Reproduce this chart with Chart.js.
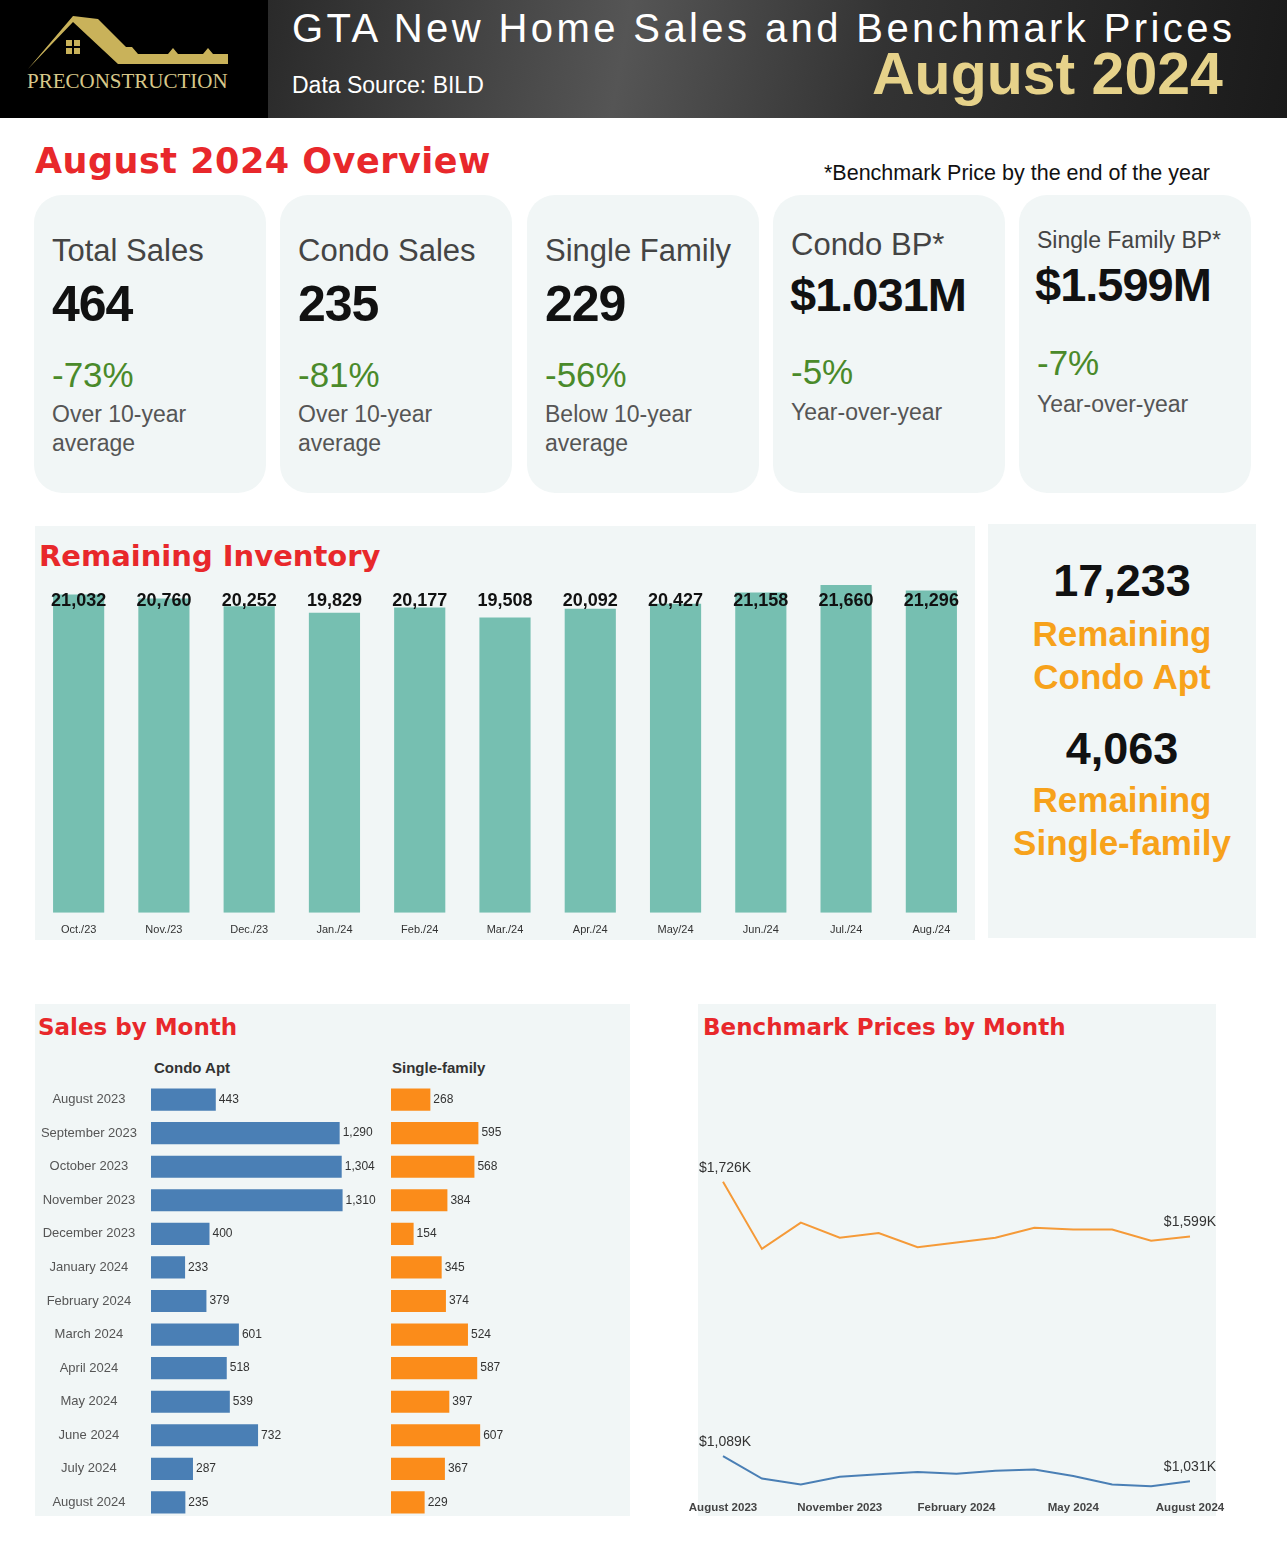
<!DOCTYPE html>
<html><head><meta charset="utf-8">
<script src="https://cdn.jsdelivr.net/npm/chart.js@4"></script>
<style>
body{margin:0;width:1287px;height:1560px;background:#fff;font-family:"Liberation Sans",Arial,sans-serif;position:relative;overflow:hidden}
.abs{position:absolute}
#hdr{left:0;top:0;width:1287px;height:118px;background:#000}
#hdrR{left:268px;top:0;width:1019px;height:118px;background:linear-gradient(100deg,#2a2a2a,#555 35%,#333 60%,#1a1a1a)}
.card{background:#f1f6f6;border-radius:28px;top:195px;width:232px;height:298px}
.ct{font-size:31px;color:#444}
.cv{font-size:50px;font-weight:bold;color:#111;letter-spacing:-1px}
.cp{font-size:35px;color:#4a8a2a}
.cs{font-size:23px;color:#555;line-height:29px}
.red{color:#e8282b;font-family:"DejaVu Sans",sans-serif;font-weight:bold}
.or{color:#f7a21b;font-weight:bold;font-size:35px;text-align:center}
.big{font-weight:bold;font-size:45px;text-align:center;color:#111}
</style></head><body>
<div id="hdr" class="abs"></div><div id="hdrR" class="abs"></div>
<svg class="abs" style="left:28px;top:14px" width="205" height="60"><path d="M0 55 L45 8 L90 50 L200 50 L200 40 L185 40 L180 34 L175 40 L150 40 L145 34 L140 40 L110 40 L104 33 L98 33 L70 5 L45 2 Z" fill="#c9b25a"/><path d="M10 50 L45 14 L80 50 Z" fill="#000"/><rect x="38" y="26" width="14" height="14" fill="#c9b25a"/><rect x="44" y="26" width="2" height="14" fill="#000"/><rect x="38" y="32" width="14" height="2" fill="#000"/></svg>
<div class="abs" style="left:27px;top:69px;font-family:'Liberation Serif',serif;font-size:21px;color:#d8c88a">PRECONSTRUCTION</div>
<div class="abs" style="left:292px;top:6px;font-size:40px;color:#fff;letter-spacing:3.4px">GTA New Home Sales and Benchmark Prices</div>
<div class="abs" style="left:292px;top:72px;font-size:23px;color:#fff">Data Source: BILD</div>
<div class="abs" style="left:872px;top:40px;font-size:59px;color:#e6d28a;font-weight:bold">August 2024</div>

<div class="abs red" style="left:35px;top:141px;font-size:35px;letter-spacing:0.5px">August 2024 Overview</div>
<div class="abs" style="left:824px;top:161px;font-size:21.5px;color:#111">*Benchmark Price by the end of the year</div>

<div class="abs card" style="left:34px"><div class="abs ct" style="left:18px;top:38px">Total Sales</div><div class="abs cv" style="left:18px;top:80px">464</div><div class="abs cp" style="left:18px;top:160px">-73%</div><div class="abs cs" style="left:18px;top:205px">Over 10-year<br>average</div></div>
<div class="abs card" style="left:280px"><div class="abs ct" style="left:18px;top:38px">Condo Sales</div><div class="abs cv" style="left:18px;top:80px">235</div><div class="abs cp" style="left:18px;top:160px">-81%</div><div class="abs cs" style="left:18px;top:205px">Over 10-year<br>average</div></div>
<div class="abs card" style="left:527px"><div class="abs ct" style="left:18px;top:38px">Single Family</div><div class="abs cv" style="left:18px;top:80px">229</div><div class="abs cp" style="left:18px;top:160px">-56%</div><div class="abs cs" style="left:18px;top:205px">Below 10-year<br>average</div></div>
<div class="abs card" style="left:773px"><div class="abs ct" style="left:18px;top:32px">Condo BP*</div><div class="abs cv" style="left:17px;top:72px;font-size:47px">$1.031M</div><div class="abs cp" style="left:18px;top:157px">-5%</div><div class="abs cs" style="left:18px;top:203px">Year-over-year</div></div>
<div class="abs card" style="left:1019px"><div class="abs ct" style="left:18px;top:32px;font-size:23px">Single Family BP*</div><div class="abs cv" style="left:16px;top:62px;font-size:47px">$1.599M</div><div class="abs cp" style="left:18px;top:148px">-7%</div><div class="abs cs" style="left:18px;top:195px">Year-over-year</div></div>

<div class="abs" style="left:35px;top:526px;width:940px;height:414px;background:#f1f6f6"></div>
<div class="abs red" style="left:39px;top:539px;font-size:29px">Remaining Inventory</div>
<div class="abs" style="left:36px;top:585px;width:938px;height:355px"><canvas id="inv"></canvas></div>

<div class="abs" style="left:988px;top:524px;width:268px;height:414px;background:#f1f6f6"></div>
<div class="abs big" style="left:988px;top:555px;width:268px">17,233</div>
<div class="abs or" style="left:988px;top:612px;width:268px;line-height:43px">Remaining<br>Condo Apt</div>
<div class="abs big" style="left:988px;top:723px;width:268px">4,063</div>
<div class="abs or" style="left:988px;top:778px;width:268px;line-height:43px">Remaining<br>Single-family</div>

<div class="abs" style="left:35px;top:1004px;width:595px;height:512px;background:#f1f6f6"></div>
<div class="abs red" style="left:38px;top:1014px;font-size:23px">Sales by Month</div>
<div class="abs" style="left:154px;top:1059px;font-size:15px;font-weight:bold;color:#333">Condo Apt</div>
<div class="abs" style="left:392px;top:1059px;font-size:15px;font-weight:bold;color:#333">Single-family</div>
<div class="abs" style="left:35px;top:1069px;width:350px;height:464px"><canvas id="cs"></canvas></div>
<div class="abs" style="left:391px;top:1069px;width:235px;height:464px"><canvas id="sf"></canvas></div>

<div class="abs" style="left:698px;top:1004px;width:518px;height:512px;background:#f1f6f6"></div>
<div class="abs red" style="left:703px;top:1014px;font-size:23px">Benchmark Prices by Month</div>
<div class="abs" style="left:668px;top:1150px;width:578px;height:368px"><canvas id="bp"></canvas></div>

<script>
const invMonths=["Oct./23","Nov./23","Dec./23","Jan./24","Feb./24","Mar./24","Apr./24","May/24","Jun./24","Jul./24","Aug./24"];
const invValues=[21032,20760,20252,19829,20177,19508,20092,20427,21158,21660,21296];
const salesMonths=["August 2023","September 2023","October 2023","November 2023","December 2023","January 2024","February 2024","March 2024","April 2024","May 2024","June 2024","July 2024","August 2024"];
const condoSales=[443,1290,1304,1310,400,233,379,601,518,539,732,287,235];
const singleSales=[268,595,568,384,154,345,374,524,587,397,607,367,229];
const bpMonths=["August 2023","September 2023","October 2023","November 2023","December 2023","January 2024","February 2024","March 2024","April 2024","May 2024","June 2024","July 2024","August 2024"];
const singleBP=[1726,1570,1631,1596,1607,1574,1585,1596,1619,1615,1615,1589,1599];
const condoBP=[1089,1037,1023,1041,1047,1052,1048,1055,1058,1043,1023,1019,1031];

Chart.defaults.animation=false;
Chart.defaults.font.family="'Liberation Sans',Arial,sans-serif";
const fmt=v=>v.toLocaleString('en-US');
const barLabels={id:'barLabels',afterDatasetsDraw(c,a,o){const ctx=c.ctx;const m=c.getDatasetMeta(0);const d=c.data.datasets[0].data;ctx.save();ctx.fillStyle=o.color||'#333';ctx.font=o.font;
 m.data.forEach((el,i)=>{if(o.horiz){ctx.textAlign='left';ctx.textBaseline='middle';ctx.fillText(fmt(d[i]),el.x+3,el.y);}else{ctx.textAlign='center';ctx.textBaseline='middle';ctx.fillText(fmt(d[i]),el.x,c.chartArea.top+16);}});ctx.restore();}};

new Chart(document.getElementById('inv'),{type:'bar',data:{labels:invMonths,datasets:[{data:invValues,backgroundColor:'#76bfb1',barPercentage:0.6,categoryPercentage:1}]},
options:{responsive:true,maintainAspectRatio:false,layout:{padding:{top:0,left:0,right:0}},plugins:{legend:{display:false},tooltip:{enabled:false},barLabels:{color:'#111',font:"bold 18px 'Liberation Sans Narrow','Liberation Sans'"}},
scales:{x:{grid:{display:false},border:{display:false},ticks:{font:{size:11},color:'#333'}},y:{display:false,min:0,max:21660}}},plugins:[barLabels]});

function hbar(id,data,color,max,showY){
new Chart(document.getElementById(id),{type:'bar',data:{labels:salesMonths,datasets:[{data:data,backgroundColor:color,barPercentage:0.66,categoryPercentage:1}]},
options:{indexAxis:'y',responsive:true,maintainAspectRatio:false,layout:{padding:{right:0}},plugins:{legend:{display:false},tooltip:{enabled:false},barLabels:{horiz:true,font:"12px 'Liberation Sans'"}},
scales:{x:{display:false,min:0,max:max},y:{grid:{display:false},border:{display:false},afterFit:showY?(s=>{s.width=116;}):(s=>{s.width=0;}),ticks:{crossAlign:'center',font:{size:13},color:showY?'#555':'transparent',padding:6}}}},plugins:[barLabels]});}
hbar('cs',condoSales,'#4a7fb5',1600,true);
hbar('sf',singleSales,'#fb8c1a',1600,false);

const endLabels={id:'endLabels',afterDatasetsDraw(c){const ctx=c.ctx;ctx.save();ctx.fillStyle='#333';ctx.font="14px 'Liberation Sans'";
 c.data.datasets.forEach((ds,di)=>{const m=c.getDatasetMeta(di);const n=ds.data.length;const f=m.data[0],l=m.data[n-1];
 ctx.textAlign='left';ctx.fillText('$'+fmt(ds.data[0])+'K',f.x-24,f.y-10);ctx.textAlign='right';ctx.fillText('$'+fmt(ds.data[n-1])+'K',l.x+26,l.y-10);});ctx.restore();}};
new Chart(document.getElementById('bp'),{type:'line',data:{labels:bpMonths,datasets:[
{data:singleBP,borderColor:'#f59a38',borderWidth:2,pointRadius:0,tension:0},
{data:condoBP,borderColor:'#4a7fb5',borderWidth:2,pointRadius:0,tension:0}]},
options:{responsive:true,maintainAspectRatio:false,layout:{padding:{left:55,right:56,top:30}},plugins:{legend:{display:false},tooltip:{enabled:false}},
scales:{y:{display:false,min:1010,max:1730},x:{offset:false,afterFit:s=>{s.paddingLeft=0;s.paddingRight=0;},grid:{display:false},border:{display:false},ticks:{autoSkip:false,maxRotation:0,font:{size:11.5,weight:'bold'},color:'#444',callback:function(v,i){return i%3===0?this.getLabelForValue(v):'';}}}}},plugins:[endLabels]});
</script>
</body></html>
